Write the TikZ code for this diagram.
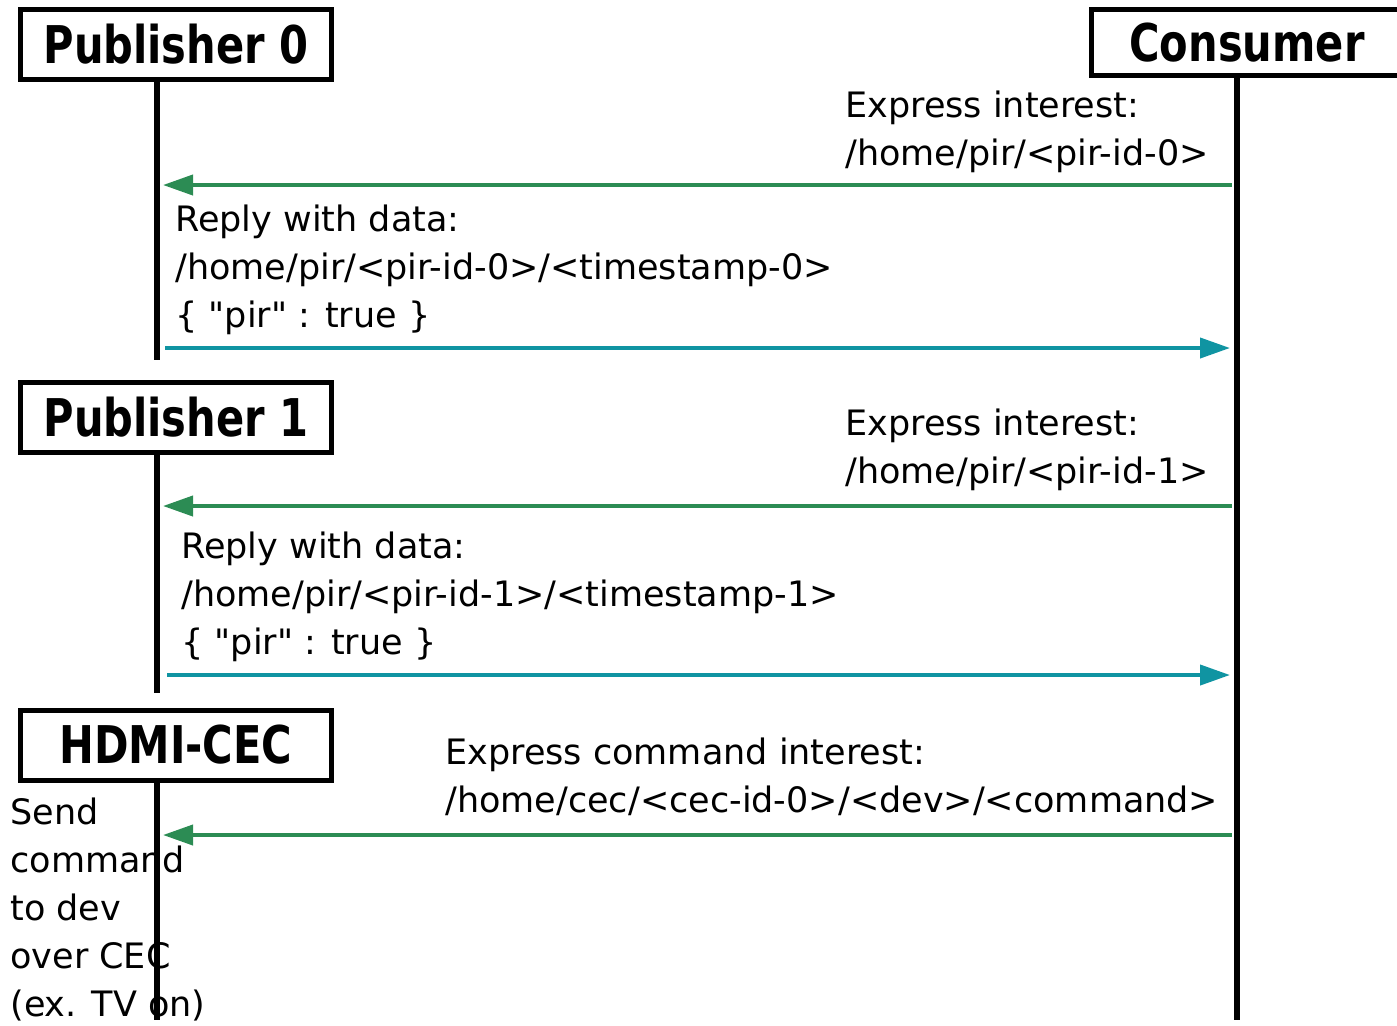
\documentclass[tikz,border=0pt]{standalone}
\usepackage{fontspec}
\setmainfont{DejaVu Sans}
\newfontfamily\headfont[FakeStretch=0.8]{DejaVu Sans Bold}
\usetikzlibrary{arrows.meta}

\definecolor{askgreen}{RGB}{44,140,84}
\definecolor{replyteal}{RGB}{16,148,162}

\begin{document}
\begin{tikzpicture}[x=0.5pt,y=-0.5pt,
	actor/.style={draw,line width=2.5pt,minimum width=155.5pt,minimum height=35pt,inner sep=0pt,font=\headfont\fontsize{26}{30}\selectfont},
	life/.style={line width=2.75pt},
	ask/.style={draw=askgreen,line width=2pt,-{Triangle[length=15pt,width=10pt]}},
	reply/.style={draw=replyteal,line width=2pt,-{Triangle[length=15pt,width=10pt]}},
	msg/.style={anchor=base west,inner sep=0pt,align=left,font=\fontsize{17.5}{24}\selectfont}]
	\useasboundingbox (0,0) rectangle (1397,1025);

	% the three devices and the consumer
	\node[actor] (pub0) at (176,44.5) {Publisher 0};
	\node[actor,minimum height=33pt] (cons) at (1247,42.5) {Consumer};
	\node[actor] (pub1) at (176,417) {Publisher 1};
	\node[actor] (cec) at (176,745) {HDMI-CEC};

	% messages (base = last line)
	\node[msg] (ask0) at (845,165) {Express interest:\\/home/pir/<pir-id-0>};
	\node[msg] (rep0) at (175,327) {Reply with data:\\/home/pir/<pir-id-0>/<timestamp-0>\\\{ \textquotedbl pir\textquotedbl{} : true \}};
	\node[msg] (ask1) at (845,483) {Express interest:\\/home/pir/<pir-id-1>};
	\node[msg] (rep1) at (181,654) {Reply with data:\\/home/pir/<pir-id-1>/<timestamp-1>\\\{ \textquotedbl pir\textquotedbl{} : true \}};
	\node[msg] (ask2) at (445,812) {Express command interest:\\/home/cec/<cec-id-0>/<dev>/<command>};
	\node[msg] (cecnote) at (10,1016) {Send\\command\\to dev\\over CEC\\(ex. TV on)};

	% lifelines
	\coordinate (pub0 end) at (157,360);
	\coordinate (pub1 end) at (157,693);
	\coordinate (cec end) at (157,1020);
	\coordinate (cons end) at (1237,1020);
	\draw[life] (pub0.south -| pub0 end) -- (pub0 end);
	\draw[life] (pub1.south -| pub1 end) -- (pub1 end);
	\draw[life] (cec.south -| cec end) -- (cec end);
	\draw[life] (cons.south -| cons end) -- (cons end);

	% arrows
	\coordinate (c0) at (1232,185);  \coordinate (p0) at (163,185);
	\coordinate (p0r) at (165,348);  \coordinate (c0r) at (1230,348);
	\coordinate (c1) at (1232,506);  \coordinate (p1) at (163,506);
	\coordinate (p1r) at (167,675);  \coordinate (c1r) at (1230,675);
	\coordinate (c2) at (1232,835);  \coordinate (h2) at (163,835);
	\draw[ask] (c0) -- (p0);
	\draw[reply] (p0r) -- (c0r);
	\draw[ask] (c1) -- (p1);
	\draw[reply] (p1r) -- (c1r);
	\draw[ask] (c2) -- (h2);
\end{tikzpicture}
\end{document}
